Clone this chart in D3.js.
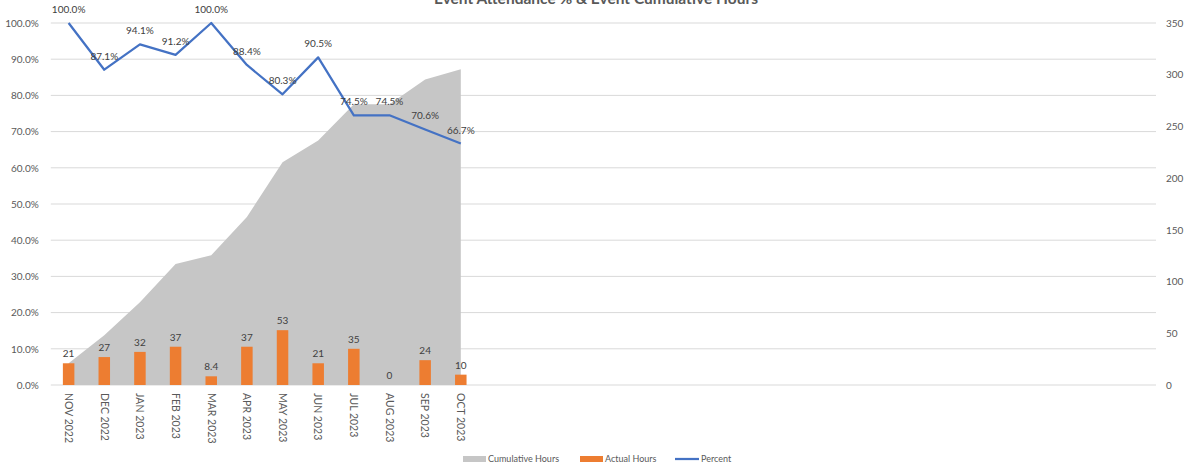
<!DOCTYPE html>
<html><head><meta charset="utf-8">
<script src="https://cdn.jsdelivr.net/npm/d3@7"></script>
<style>
body{margin:0;background:#fff;}
svg{display:block;font-family:Lato,"Open Sans",sans-serif;}
</style></head>
<body><svg id="c" width="1185" height="465"></svg>
<script>
const months = ["NOV 2022","DEC 2022","JAN 2023","FEB 2023","MAR 2023","APR 2023","MAY 2023","JUN 2023","JUL 2023","AUG 2023","SEP 2023","OCT 2023"];
const cumulativeHours = [21,48,80,117,125.4,162.4,215.4,236.4,271.4,271.4,295.4,305.4];
const actualHours = [21,27,32,37,8.4,37,53,21,35,0,24,10];
const percent = [1.0,0.871,0.941,0.912,1.0,0.884,0.803,0.905,0.745,0.745,0.706,0.667];
const totalSlots = 31;
const leftTicks = [0,0.1,0.2,0.3,0.4,0.5,0.6,0.7,0.8,0.9,1.0];
const rightTicks = [0,50,100,150,200,250,300,350];
const title = "Event Attendance % & Event Cumulative Hours";

const svg = d3.select("#c");
const L = 50.8, R = 1156, T = 23, B = 385;
const slots = d3.range(totalSlots);
const x = d3.scaleBand().domain(slots).range([L, R]);
const cx = i => x(i) + x.bandwidth()/2;
const yL = d3.scaleLinear().domain([0,1]).range([B,T]);
const yR = d3.scaleLinear().domain([0,350]).range([B,T]);

// gridlines
svg.append("g").selectAll("line").data(leftTicks).join("line")
  .attr("x1", L).attr("x2", R).attr("y1", d=>yL(d)).attr("y2", d=>yL(d))
  .attr("stroke", "#d9d9d9").attr("stroke-width", 1);

// left axis
const gl = svg.append("g").attr("transform", `translate(${L-9},0)`)
  .call(d3.axisLeft(yL).tickValues(leftTicks).tickFormat(d3.format(".1%")).tickSize(0));
gl.select(".domain").remove();
gl.selectAll("text").attr("fill","#595959").style("font-size","10px").style("font-family","Lato");

// right axis
const gr = svg.append("g").attr("transform", `translate(${R+7},0)`)
  .call(d3.axisRight(yR).tickValues(rightTicks).tickSize(0));
gr.select(".domain").remove();
gr.selectAll("text").attr("fill","#595959").style("font-size","10px").style("font-family","Lato");

// area
const area = d3.area().x((d,i)=>cx(i)).y0(B).y1(d=>yR(d));
svg.append("path").datum(cumulativeHours).attr("d", area).attr("fill", "#c6c6c6");

// bars
const bw = 11.5;
svg.append("g").selectAll("rect").data(actualHours).join("rect")
  .attr("x", (d,i)=>cx(i)-bw/2).attr("width", bw)
  .attr("y", d=>yR(d)).attr("height", d=>B-yR(d))
  .attr("fill", "#ed7d31");

// bar labels
svg.append("g").selectAll("text").data(actualHours).join("text")
  .attr("x", (d,i)=>cx(i)).attr("y", d=>yR(d)-6)
  .attr("text-anchor","middle").attr("fill","#404040").style("font-size","10px")
  .text(d=>d);

// line
const line = d3.line().x((d,i)=>cx(i)).y(d=>yL(d));
svg.append("path").datum(percent).attr("d", line).attr("fill","none")
  .attr("stroke","#4472c4").attr("stroke-width",2.25).attr("stroke-linejoin","round");

// percent labels
svg.append("g").selectAll("text").data(percent).join("text")
  .attr("x", (d,i)=>cx(i)).attr("y", d=>yL(d)-10)
  .attr("text-anchor","middle").attr("fill","#404040").style("font-size","10px")
  .text(d=>d3.format(".1%")(d));

// x labels
const xa = svg.append("g").attr("transform", `translate(0,${B})`)
  .call(d3.axisBottom(x).tickSize(0).tickFormat(i => months[i] || ""));
xa.select(".domain").remove();
xa.selectAll("text").attr("transform","rotate(90)").attr("text-anchor","start")
  .attr("x", 8).attr("y", 0).attr("dy","0.35em")
  .attr("fill","#595959").style("font-size","10.5px").style("font-family","Lato");

// title (cut off at the top edge, as in the reference)
svg.append("text").attr("x", 596).attr("y", 4).attr("text-anchor","middle")
  .attr("fill","#595959").style("font-size","15.5px").style("font-weight","bold").text(title);

// legend
const lg = svg.append("g").attr("transform","translate(0,459)");
lg.append("rect").attr("x",463).attr("y",-3).attr("width",23).attr("height",6).attr("fill","#c6c6c6");
lg.append("text").attr("x",488).attr("y",0).attr("dy","0.35em").attr("fill","#595959").style("font-size","9px").text("Cumulative Hours");
lg.append("rect").attr("x",580).attr("y",-3).attr("width",23).attr("height",6).attr("fill","#ed7d31");
lg.append("text").attr("x",605).attr("y",0).attr("dy","0.35em").attr("fill","#595959").style("font-size","9px").text("Actual Hours");
lg.append("line").attr("x1",675).attr("x2",699).attr("y1",0).attr("y2",0).attr("stroke","#4472c4").attr("stroke-width",2.25);
lg.append("text").attr("x",701).attr("y",0).attr("dy","0.35em").attr("fill","#595959").style("font-size","9px").text("Percent");
</script></body></html>
